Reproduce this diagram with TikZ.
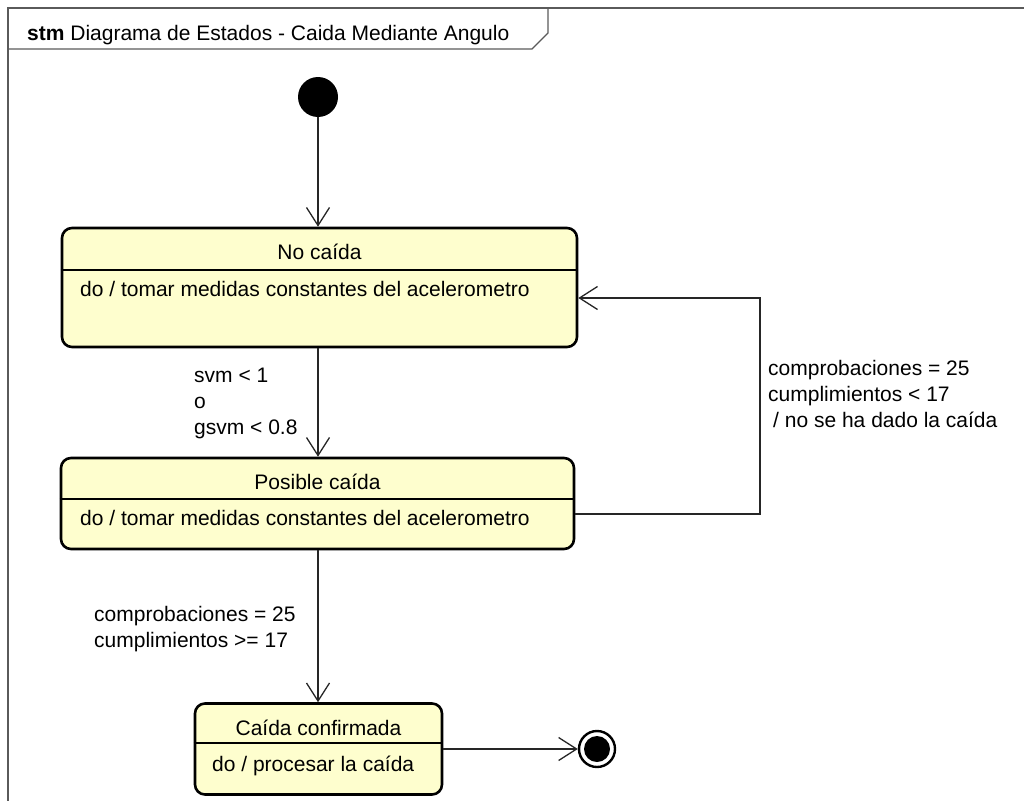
\documentclass[tikz,border=0pt]{standalone}
\usepackage{fontspec}
\setmainfont{Liberation Sans}
\usetikzlibrary{arrows.meta}
\definecolor{statefill}{HTML}{FEFECE}
\definecolor{framegray}{HTML}{5A5A5A}
\begin{document}
\begin{tikzpicture}[x=1pt,y=-1pt,
  every node/.style={font=\fontsize{21}{26}\selectfont},
  state/.style={draw=black, line width=2.6pt, fill=statefill, rounded corners=10pt, inner sep=0pt},
  divider/.style={line width=1.2pt},
  conn/.style={line width=1.3pt, draw=black!85, -{Straight Barb[length=18pt,width=23pt]}},
  lbl/.style={anchor=base west, inner sep=0pt},
  ttl/.style={anchor=base, inner sep=0pt}]
\useasboundingbox (0,0) rectangle (1024,800);

% diagram frame and name tab
\draw[framegray, line width=1.4pt] (8,812) -- (8,8) -- (1030,8);
\draw[framegray, line width=1.4pt] (8,49) -- (532,49) -- (548,33) -- (548,8);
\node[lbl] (hdr) at (27,41) {\textbf{stm} Diagrama de Estados - Caida Mediante Angulo};

% pseudo states
\node[circle, fill=black, minimum size=40pt, inner sep=0pt] (init) at (318,97) {};
\node[circle, draw=black, line width=2.4pt, fill=white, minimum size=36pt, inner sep=0pt] (fin) at (597,749) {};
\fill[black] (fin.center) circle[radius=13pt];

% states
\node[state, minimum width=515pt, minimum height=119pt] (nc) at (319.5,287.5) {};
\draw[divider] (nc.west |- 0,270) -- (nc.east |- 0,270);
\node[ttl] (ncT) at (319.5,259) {No caída};
\node[lbl] (ncD) at (80,296) {do / tomar medidas constantes del acelerometro};

\node[state, minimum width=513pt, minimum height=91pt] (pc) at (317.5,503.5) {};
\draw[divider] (pc.west |- 0,499) -- (pc.east |- 0,499);
\node[ttl] (pcT) at (317.5,489) {Posible caída};
\node[lbl] (pcD) at (80,525) {do / tomar medidas constantes del acelerometro};

\node[state, minimum width=247pt, minimum height=91pt] (cc) at (318.5,749) {};
\draw[divider] (cc.west |- 0,743) -- (cc.east |- 0,743);
\node[ttl] (ccT) at (318.5,735) {Caída confirmada};
\node[lbl] (ccD) at (212,771) {do / procesar la caída};

% transitions
\draw[conn] (init) -- (init |- nc.north);
\draw[conn] (nc.south -| init) -- (pc.north -| init);
\draw[conn] (pc.south -| init) -- (cc.north -| init);
\draw[conn] (cc.east |- fin) -- (fin);
\coordinate (lp) at (760,514);
\coordinate (lq) at (760,298);
\draw[conn] (pc.east |- lp) -- (lp) -- (lq) -- (nc.east |- lq);

% guards
\node[lbl] (g1a) at (194,382) {svm < 1};
\node[lbl] (g1b) at (194,408) {o};
\node[lbl] (g1c) at (194,434) {gsvm < 0.8};

\node[lbl] (g2a) at (768,375) {comprobaciones = 25};
\node[lbl] (g2b) at (768,401) {cumplimientos < 17};
\node[lbl] (g2c) at (773,427) {/ no se ha dado la caída};

\node[lbl] (g3a) at (94,621) {comprobaciones = 25};
\node[lbl] (g3b) at (94,647) {cumplimientos >= 17};
\end{tikzpicture}
\end{document}
